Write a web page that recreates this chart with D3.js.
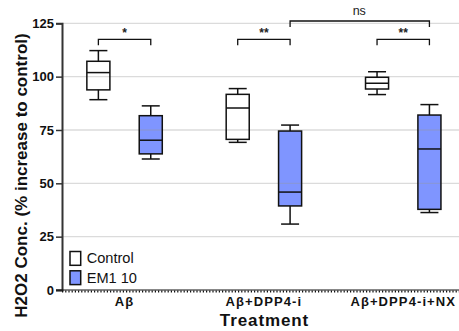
<!DOCTYPE html>
<html>
<head>
<meta charset="utf-8">
<script src="https://cdn.jsdelivr.net/npm/d3@7"></script>
<style>
  html, body { margin: 0; padding: 0; background: #fff; }
  svg text { font-family: Arial, "Liberation Sans", sans-serif; }
</style>
</head>
<body>
<svg id="chart" width="459" height="331"></svg>
<script>
// Treatment groups and the two series drawn inside each group
const categories = ["Aβ", "Aβ+DPP4-i", "Aβ+DPP4-i+NX"];
const seriesNames = ["Control", "EM1 10"];
const seriesColors = ["#ffffff", "#7f95ff"];

// Five-number summaries per group: [min, q1, median, q3, max]
const controlStats = [
  [89.2, 93.8, 101.9, 107.2, 112.2],
  [69.2, 70.6, 85.3, 91.7, 94.4],
  [91.6, 94.2, 96.9, 99.7, 102.3]
];
const em1Stats = [
  [61.4, 63.8, 70.2, 81.7, 86.3],
  [30.9, 39.4, 45.9, 74.5, 77.3],
  [36.3, 37.8, 66.1, 82.0, 86.9]
];

const yTicks = [0, 25, 50, 75, 100, 125];

// Significance annotations: [fromGroup, fromSeries, toGroup, toSeries, label, level]
const sigPairs = [
  [0, 0, 0, 1, "*", 0],
  [1, 0, 1, 1, "**", 0],
  [2, 0, 2, 1, "**", 0],
  [1, 1, 2, 1, "ns", 1]
];

const svg = d3.select("#chart");
const margin = { left: 62, top: 23, bottom: 41 };
const H = 331;

const y = d3.scaleLinear().domain([0, 125]).range([H - margin.bottom, 23.3]);
const x = d3.scaleBand().domain(categories).range([54.9, 472.9]).paddingInner(0).paddingOuter(0);
const sub = d3.scaleBand().domain(seriesNames).range([0, x.bandwidth()]).paddingInner(0.56).paddingOuter(0.61);
const boxW = sub.bandwidth();
const capW = 18;

function cx(gi, si) {
  return x(categories[gi]) + sub(seriesNames[si]) + boxW / 2;
}

// Box fills
const allStats = [controlStats, em1Stats];
allStats.forEach((stats, si) => {
  const g = svg.append("g");
  stats.forEach((s, gi) => {
    const c = cx(gi, si);
    const [mn, q1, md, q3, mx] = s;
    g.append("rect")
      .attr("x", c - boxW / 2).attr("y", y(q3))
      .attr("width", boxW).attr("height", y(q1) - y(q3))
      .attr("fill", seriesColors[si]);
  });
});

// Horizontal grid lines, drawn over the box fills
svg.append("g")
  .selectAll("line")
  .data(yTicks.filter(d => d > 0))
  .join("line")
  .attr("x1", margin.left).attr("x2", 459)
  .attr("y1", d => y(d)).attr("y2", d => y(d))
  .attr("stroke", "#999").attr("stroke-opacity", 0.35).attr("stroke-width", 1.3);

// Box outlines, medians and whiskers
allStats.forEach((stats, si) => {
  const g = svg.append("g").attr("stroke", "#111").attr("stroke-width", 1.5).attr("fill", "none");
  stats.forEach((s, gi) => {
    const c = cx(gi, si);
    const [mn, q1, md, q3, mx] = s;
    g.append("rect")
      .attr("x", c - boxW / 2).attr("y", y(q3))
      .attr("width", boxW).attr("height", y(q1) - y(q3));
    g.append("line").attr("x1", c - boxW / 2).attr("x2", c + boxW / 2).attr("y1", y(md)).attr("y2", y(md));
    g.append("line").attr("x1", c).attr("x2", c).attr("y1", y(q3)).attr("y2", y(mx));
    g.append("line").attr("x1", c).attr("x2", c).attr("y1", y(q1)).attr("y2", y(mn));
    g.append("line").attr("x1", c - capW / 2).attr("x2", c + capW / 2).attr("y1", y(mx)).attr("y2", y(mx));
    g.append("line").attr("x1", c - capW / 2).attr("x2", c + capW / 2).attr("y1", y(mn)).attr("y2", y(mn));
  });
});

// Y axis
const yAxis = d3.axisLeft(y).tickValues(yTicks).tickSize(6).tickPadding(2);
const yg = svg.append("g").attr("transform", `translate(${margin.left},0)`).call(yAxis);
yg.select(".domain").attr("stroke", "#333").attr("stroke-width", 2);
yg.selectAll(".tick line").attr("stroke", "#333").attr("stroke-width", 1.5);
yg.selectAll(".tick text")
  .attr("font-size", 13).attr("font-weight", "bold").attr("fill", "#111")
  .attr("font-family", "Arial, 'Liberation Sans', sans-serif");

// X axis: dotted baseline with category labels
svg.append("line")
  .attr("x1", margin.left - 6).attr("x2", 459)
  .attr("y1", y(0)).attr("y2", y(0))
  .attr("stroke", "#111").attr("stroke-width", 1);
svg.append("line")
  .attr("x1", margin.left).attr("x2", 459)
  .attr("y1", y(0) + 1.5).attr("y2", y(0) + 1.5)
  .attr("stroke", "#111").attr("stroke-width", 2).attr("stroke-dasharray", "1.2,2");
svg.append("g").selectAll("text")
  .data(categories)
  .join("text")
  .attr("x", d => x(d) + x.bandwidth() / 2)
  .attr("y", 306)
  .attr("text-anchor", "middle")
  .attr("font-size", 13).attr("font-weight", "bold").attr("fill", "#111")
  .attr("letter-spacing", 1.1)
  .text(d => d);

// Axis titles
svg.append("text")
  .attr("x", 264.5).attr("y", 326)
  .attr("text-anchor", "middle")
  .attr("font-size", 17).attr("font-weight", "bold").attr("fill", "#111")
  .attr("letter-spacing", 0.9)
  .text("Treatment");
svg.append("text")
  .attr("transform", "translate(27,175.5) rotate(-90)")
  .attr("text-anchor", "middle")
  .attr("font-size", 17).attr("font-weight", "bold").attr("fill", "#111")
  .text("H2O2 Conc. (% increase to control)");

// Significance brackets
const bracketY = [39.3, 21];
sigPairs.forEach(([g1, s1, g2, s2, label, lvl]) => {
  const x1 = cx(g1, s1), x2 = cx(g2, s2), by = bracketY[lvl];
  svg.append("path")
    .attr("d", `M${x1},${by + 6}V${by}H${x2}V${by + 6}`)
    .attr("fill", "none").attr("stroke", "#111").attr("stroke-width", 1.3);
  const isNs = label === "ns";
  svg.append("text")
    .attr("x", isNs ? (x1 + x2) / 2 - 0.5 : (x1 + x2) / 2)
    .attr("y", isNs ? by - 6 : by - 2)
    .attr("text-anchor", "middle")
    .attr("font-size", isNs ? 12.5 : 12)
    .attr("font-weight", isNs ? "normal" : "bold")
    .attr("fill", "#222")
    .text(label);
});

// Legend
const legend = svg.append("g").attr("transform", "translate(70,251.5)");
seriesNames.forEach((name, i) => {
  const row = legend.append("g").attr("transform", `translate(0,${i * 19.3})`);
  row.append("rect").attr("width", 10.7).attr("height", 13.8)
    .attr("fill", seriesColors[i]).attr("stroke", "#111").attr("stroke-width", 1.5);
  row.append("text").attr("x", 16.7).attr("y", 11.8)
    .attr("font-size", 14.6).attr("fill", "#111").text(name);
});
</script>
</body>
</html>
